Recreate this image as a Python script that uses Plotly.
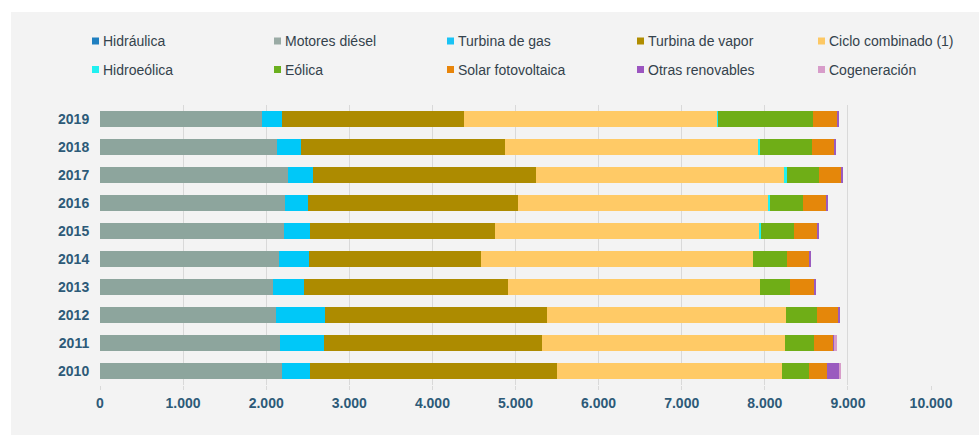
import plotly.graph_objects as go

years = ["2010", "2011", "2012", "2013", "2014", "2015", "2016", "2017", "2018", "2019"]

hidraulica = [2, 2, 2, 2, 2, 2, 2, 2, 2, 2]
motores_diesel = [2187, 2159, 2110, 2078, 2147, 2207, 2223, 2255, 2123, 1949]
turbina_gas = [341, 530, 598, 370, 369, 317, 273, 305, 293, 241]
turbina_vapor = [2968, 2630, 2675, 2458, 2064, 2233, 2538, 2679, 2454, 2186]
ciclo_combinado = [2711, 2920, 2876, 3031, 3277, 3180, 3012, 2988, 3052, 3048]
hidroeolica = [0, 0, 0, 0, 2, 12, 20, 36, 16, 12]
eolica = [326, 357, 370, 366, 406, 406, 386, 385, 622, 1145]
solar_fv = [208, 226, 257, 297, 270, 274, 289, 274, 281, 289]
otras_renovables = [157, 20, 12, 12, 12, 12, 12, 12, 12, 12]
cogeneracion = [5, 24, 0, 0, 0, 0, 0, 0, 0, 0]

series_names = ["Hidráulica", "Motores diésel", "Turbina de gas", "Turbina de vapor",
                "Ciclo combinado (1)", "Hidroeólica", "Eólica", "Solar fotovoltaica",
                "Otras renovables", "Cogeneración"]
series_values = [hidraulica, motores_diesel, turbina_gas, turbina_vapor, ciclo_combinado,
                 hidroeolica, eolica, solar_fv, otras_renovables, cogeneracion]
bar_colors = ["#1f7fc0", "#8da59d", "#00c8f8", "#ad8b00", "#ffca66",
              "#20f0f0", "#6fae17", "#e5870a", "#9a5bbf", "#d79cc9"]
legend_colors = ["#1f7fc0", "#9aaba5", "#19c3f5", "#b08d00", "#fdc864",
                 "#20f0f0", "#6aaf1e", "#e8850a", "#9b55c0", "#d79cc9"]

x_ticks = [0, 1000, 2000, 3000, 4000, 5000, 6000, 7000, 8000, 9000, 10000]

W, H = 979, 435
ML, MR, MT, MB = 100, 48, 105, 50
PW, PH = W - ML - MR, H - MT - MB

def px_x(px):
    return (px - ML) / PW

def px_y(py):
    return (H - MB - py) / PH

fig = go.Figure()
for name, vals, col in zip(series_names, series_values, bar_colors):
    fig.add_trace(go.Bar(
        y=years, x=vals, name=name, orientation="h",
        marker=dict(color=col, line=dict(width=0)),
        showlegend=False,
    ))

shapes = [dict(type="rect", xref="paper", yref="paper", layer="below",
               x0=px_x(11), x1=px_x(W + 5), y0=px_y(H + 5), y1=px_y(12),
               fillcolor="#f3f3f3", line=dict(width=0))]
annotations = []
col_x = [92, 274, 447, 637, 818]
row_y = [41, 69.5]
for i, (name, col) in enumerate(zip(series_names, legend_colors)):
    mx = col_x[i % 5]
    my = row_y[i // 5]
    shapes.append(dict(type="rect", xref="paper", yref="paper", layer="above",
                       x0=px_x(mx), x1=px_x(mx + 7), y0=px_y(my + 3.5), y1=px_y(my - 3.5),
                       fillcolor=col, line=dict(width=0)))
    annotations.append(dict(xref="paper", yref="paper", x=px_x(mx + 9), y=px_y(my),
                            xanchor="left", yanchor="middle", showarrow=False,
                            text=name, font=dict(family="Liberation Sans, Arial", size=14,
                                                 color="#34424c")))

fig.update_layout(
    width=W, height=H,
    margin=dict(l=ML, r=MR, t=MT, b=MB, pad=0),
    barmode="stack", bargap=0.46,
    paper_bgcolor="#ffffff", plot_bgcolor="#f3f3f3",
    separators=",.",
    shapes=shapes, annotations=annotations,
    showlegend=False,
    font=dict(family="Liberation Sans, Arial", size=14, color="#2d5a78"),
    xaxis=dict(range=[0, 10000], tickvals=x_ticks, tickformat=",d",
               showgrid=True, gridcolor="#d9d9d9", gridwidth=1,
               zeroline=False, showline=False,
               ticks="outside", ticklen=4, tickcolor="#d9d9d9",
               ticklabelstandoff=1,
               tickfont=dict(family="Liberation Sans, Arial", size=14, color="#2d5a78", weight="bold")),
    yaxis=dict(type="category", categoryorder="array", categoryarray=years,
               showgrid=False, zeroline=False, showline=False,
               ticks="outside", ticklen=7, tickcolor="rgba(0,0,0,0)",
               tickfont=dict(family="Liberation Sans, Arial", size=14, color="#2d5a78", weight="bold")),
)

fig.write_html("out.html", config={"displayModeBar": False},
               post_script="document.body.style.margin='0';")
